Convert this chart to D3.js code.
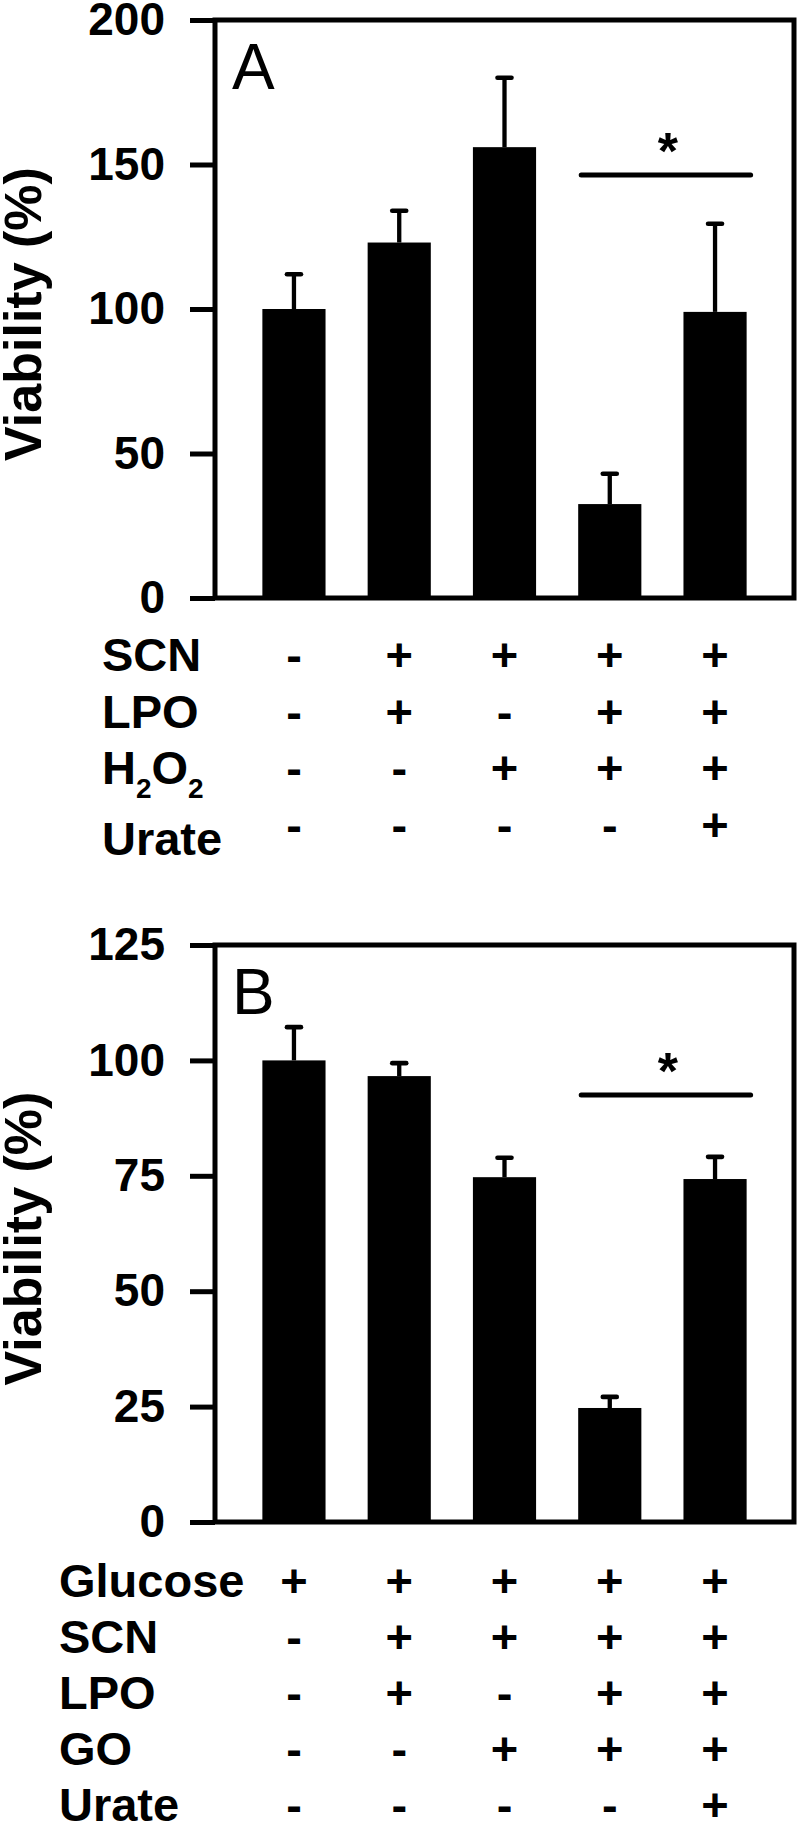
<!DOCTYPE html>
<html lang="en">
<head>
    <meta charset="UTF-8">
    <title>Viability - SCN / LPO / H2O2 / Urate</title>
    <script src="https://cdn.jsdelivr.net/npm/d3@7/dist/d3.min.js"></script>
    <style>
        body{ margin:0; background:#fff; }
        text{
            font-family: "Liberation Sans", Arial, sans-serif;
            fill: #000;
        }
    </style>
</head>
<body>
<div class="container"></div>
<script>
    ////////////////////////////////////////////////////////////////
    /*                         Data                               */
    ////////////////////////////////////////////////////////////////

    const groups = ["c1", "c2", "c3", "c4", "c5"]

    // panel A
    const meansA = [100, 123, 156, 32.5, 99]
    const errorsA = [12, 11, 24, 10.5, 30.5]
    const ticksA = [0, 50, 100, 150, 200]
    const rowsA = ["SCN", "LPO", "H2O2", "Urate"]
    const signsA = [
        ["-", "+", "+", "+", "+"],
        ["-", "+", "-", "+", "+"],
        ["-", "-", "+", "+", "+"],
        ["-", "-", "-", "-", "+"]
    ]
    const sigPairA = [3, 4]
    const sigLevelA = 146.4

    // panel B
    const meansB = [100, 96.6, 74.7, 24.7, 74.3]
    const errorsB = [7.2, 2.8, 4.2, 2.4, 4.8]
    const ticksB = [0, 25, 50, 75, 100, 125]
    const rowsB = ["Glucose", "SCN", "LPO", "GO", "Urate"]
    const signsB = [
        ["+", "+", "+", "+", "+"],
        ["-", "+", "+", "+", "+"],
        ["-", "+", "-", "+", "+"],
        ["-", "-", "+", "+", "+"],
        ["-", "-", "-", "-", "+"]
    ]
    const sigPairB = [3, 4]
    const sigLevelB = 92.5

    ////////////////////////////////////////////////////////////////
    /*                  Containers and scales                     */
    ////////////////////////////////////////////////////////////////

    const width = 800, height = 1823
    const left = 215, right = 794
    const svg = d3.select('.container')
        .append("svg")
        .attr("width", width)
        .attr("height", height)
        .attr("viewBox", `0 0 ${width} ${height}`)

    const x = d3.scaleBand()
        .domain(groups)
        .range([left, right])
        .paddingInner(0.4)
        .paddingOuter(0.45)

    drawPanel({
        letter: "A", means: meansA, errors: errorsA, ticks: ticksA,
        rows: rowsA, signs: signsA, sigPair: sigPairA, sigLevel: sigLevelA,
        top: 20, bottom: 598, rowRange: [671, 841], labelX: 102, lastLabelShift: 14
    })
    drawPanel({
        letter: "B", means: meansB, errors: errorsB, ticks: ticksB,
        rows: rowsB, signs: signsB, sigPair: sigPairB, sigLevel: sigLevelB,
        top: 945, bottom: 1522, rowRange: [1597, 1821], labelX: 59, lastLabelShift: 0
    })

    ////////////////////////////////////////////////////////////////
    /*                      panel drawing                         */
    ////////////////////////////////////////////////////////////////

    function drawPanel(p) {
        const g = svg.append("g").attr("class", "panel" + p.letter)
        const y = d3.scaleLinear()
            .domain(d3.extent(p.ticks))
            .range([p.bottom, p.top])

        // bars
        g.selectAll(".bar")
            .data(p.means)
            .join("rect")
            .attr("class", "bar")
            .attr("x", (d, i) => x(groups[i]))
            .attr("width", x.bandwidth())
            .attr("y", d => y(d))
            .attr("height", d => y(0) - y(d))
            .attr("fill", "#000")

        // error bars (upper only)
        const eb = g.selectAll(".err")
            .data(p.means.map((m, i) => ({m, e: p.errors[i], cx: x(groups[i]) + x.bandwidth() / 2})))
            .join("g")
            .attr("class", "err")
        eb.append("line")
            .attr("x1", d => d.cx).attr("x2", d => d.cx)
            .attr("y1", d => y(d.m)).attr("y2", d => y(d.m + d.e))
            .attr("stroke", "#000").attr("stroke-width", 4.3)
        eb.append("line")
            .attr("x1", d => d.cx - 7).attr("x2", d => d.cx + 7)
            .attr("y1", d => y(d.m + d.e)).attr("y2", d => y(d.m + d.e))
            .attr("stroke", "#000").attr("stroke-width", 4.6)
            .attr("stroke-linecap", "round")

        // frame
        g.append("rect")
            .attr("x", left).attr("y", p.top)
            .attr("width", right - left).attr("height", p.bottom - p.top)
            .attr("fill", "none").attr("stroke", "#000").attr("stroke-width", 5)

        // y axis
        const axis = g.append("g")
            .attr("transform", `translate(${left},0)`)
            .call(d3.axisLeft(y).tickValues(p.ticks).tickSize(25).tickPadding(25))
        axis.select(".domain").remove()
        axis.selectAll(".tick line").attr("stroke", "#000").attr("stroke-width", 5)
        axis.selectAll(".tick text")
            .attr("font-size", 46)
            .attr("font-weight", "bold")
            .attr("font-family", '"Liberation Sans", Arial, sans-serif')
            .attr("fill", "#000")

        // y label
        g.append("text")
            .attr("transform", `translate(41,${(p.top + p.bottom) / 2 + 5})rotate(-90)`)
            .attr("text-anchor", "middle")
            .attr("font-size", 52)
            .attr("font-weight", "bold")
            .text("Viability (%)")

        // panel letter
        g.append("text")
            .attr("x", 232).attr("y", p.top + 69)
            .attr("font-size", 64)
            .text(p.letter)

        // significance bar
        const sx1 = x(groups[p.sigPair[0]]) + 3
        const sx2 = x(groups[p.sigPair[1]]) + x.bandwidth() + 4
        g.append("line")
            .attr("x1", sx1).attr("x2", sx2)
            .attr("y1", y(p.sigLevel)).attr("y2", y(p.sigLevel))
            .attr("stroke", "#000").attr("stroke-width", 5)
            .attr("stroke-linecap", "round")
        g.append("text")
            .attr("x", (sx1 + sx2) / 2 + 2).attr("y", y(p.sigLevel) - 6)
            .attr("text-anchor", "middle")
            .attr("font-size", 52)
            .attr("font-weight", "bold")
            .text("*")

        // treatment table
        const row = d3.scalePoint().domain(p.rows).range(p.rowRange)
        const labels = g.selectAll(".rowLabel")
            .data(p.rows)
            .join("text")
            .attr("class", "rowLabel")
            .attr("x", p.labelX)
            .attr("y", (d, i) => row(d) + (i === p.rows.length - 1 ? p.lastLabelShift : 0))
            .attr("font-size", 47)
            .attr("font-weight", "bold")
        labels.each(function (d) {
            const t = d3.select(this)
            if (d === "H2O2") {
                t.append("tspan").text("H")
                t.append("tspan").text("2").attr("font-size", 28).attr("dy", 14)
                t.append("tspan").text("O").attr("dy", -14)
                t.append("tspan").text("2").attr("font-size", 28).attr("dy", 14)
            } else {
                t.text(d)
            }
        })

        p.signs.forEach((signs, r) => {
            g.selectAll(".sign" + r)
                .data(signs)
                .join("text")
                .attr("class", "sign" + r)
                .attr("x", (d, i) => x(groups[i]) + x.bandwidth() / 2)
                .attr("y", row(p.rows[r]))
                .attr("text-anchor", "middle")
                .attr("font-size", 47)
                .attr("font-weight", "bold")
                .text(d => d)
        })
    }
</script>

</body>
</html>
